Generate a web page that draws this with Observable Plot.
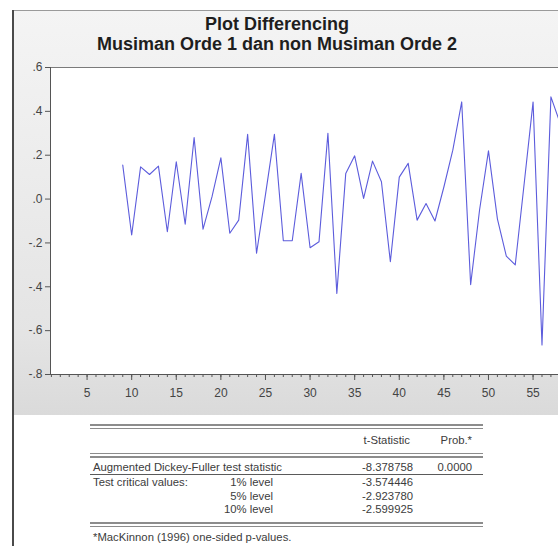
<!DOCTYPE html>
<html>
<head>
<meta charset="utf-8">
<script src="https://cdn.jsdelivr.net/npm/d3@7"></script>
<script src="https://cdn.jsdelivr.net/npm/@observablehq/plot@0.6"></script>
<style>
  html, body { margin: 0; padding: 0; background: #fff; }
  body { width: 558px; height: 546px; overflow: hidden; position: relative; font-family: "Liberation Sans", Arial, sans-serif; }
  .abs { position: absolute; white-space: nowrap; }
  #panel { left: 13px; top: 10px; width: 560px; height: 404px; border-top: 1px solid #9a9a9a;
           background: linear-gradient(#f4f4f4, #e4e4e4 80%, #dadada); }
  #leftline { left: 12px; top: 10px; width: 2px; height: 536px; background: #4a4a4a; }
  #title { left: 0; top: 14px; width: 554px; text-align: center; font-weight: bold; font-size: 18px; line-height: 20px; color: #1e1e1e; }
  #chart { left: 0; top: 55px; }
  .t { font-size: 11.3px; line-height: 13px; color: #3c3c3c; }
  .dl { left: 90px; width: 393px; height: 1.5px; background: #8c8c8c; }
</style>
</head>
<body>
<div id="panel" class="abs"></div>
<div id="leftline" class="abs"></div>
<div id="title" class="abs"></div>
<div id="chart" class="abs"></div>
<div id="table"></div>
<script>
// ---- data ----
const titleLines = ["Plot Differencing", "Musiman Orde 1 dan non Musiman Orde 2"];
const obs = [9, 10, 11, 12, 13, 14, 15, 16, 17, 18, 19, 20, 21, 22, 23, 24, 25, 26, 27, 28, 29, 30, 31, 32, 33,
             34, 35, 36, 37, 38, 39, 40, 41, 42, 43, 44, 45, 46, 47, 48, 49, 50, 51, 52, 53, 54, 55, 56, 57, 58];
const diffValues = [0.155, -0.164, 0.147, 0.112, 0.150, -0.149, 0.170, -0.115, 0.281, -0.137, 0.01, 0.188, -0.156,
                    -0.096, 0.295, -0.247, 0.02, 0.295, -0.19, -0.19, 0.117, -0.222, -0.195, 0.30, -0.43,
                    0.117, 0.197, 0.003, 0.173, 0.079, -0.286, 0.10, 0.163, -0.096, -0.02, -0.10, 0.055, 0.223,
                    0.443, -0.39, -0.05, 0.22, -0.09, -0.26, -0.30, 0.07, 0.443, -0.665, 0.466, 0.35];
const yTicks = [-0.8, -0.6, -0.4, -0.2, 0, 0.2, 0.4, 0.6];
const xMajorTicks = [5, 10, 15, 20, 25, 30, 35, 40, 45, 50, 55];
const xMinorTicks = d3.range(1, 58);

const tableHeader = ["t-Statistic", "Prob.*"];
const rowLabels = ["Augmented Dickey-Fuller test statistic", "Test critical values:"];
const levelLabels = ["1% level", "5% level", "10% level"];
const tStats = ["-8.378758", "-3.574446", "-2.923780", "-2.599925"];
const probs = ["0.0000"];
const footnote = "*MacKinnon (1996) one-sided p-values.";

// ---- title ----
document.getElementById("title").innerHTML = titleLines.join("<br>");

// ---- chart ----
const data = obs.map((t, i) => ({t, v: diffValues[i]}));
const fmtY = v => (v < 0 ? "-" : "") + "." + Math.round(Math.abs(v) * 10);

const chart = Plot.plot({
  width: 558,
  height: 355,
  marginTop: 12,
  marginBottom: 36,
  marginLeft: 50,
  marginRight: 0,
  style: {background: "transparent", fontFamily: "Liberation Sans, Arial, sans-serif", fontSize: "12px", color: "#444"},
  x: {domain: [0.9, 57.85]},
  y: {domain: [-0.8, 0.6]},
  marks: [
    Plot.frame({fill: "white", stroke: null}),
    Plot.axisY(yTicks, {tickSize: 5, tickPadding: 3, tickFormat: fmtY, label: null, stroke: "#555"}),
    Plot.axisX(xMinorTicks, {tickSize: 3, tickFormat: () => "", label: null, stroke: "#555"}),
    Plot.axisX(xMajorTicks, {tickSize: 6, tickPadding: 8, label: null, stroke: "#555"}),
    Plot.ruleY([0.6], {stroke: "#7a7a7a"}),
    Plot.ruleY([-0.8], {stroke: "#555"}),
    Plot.ruleX([0.9], {stroke: "#555"}),
    Plot.line(data, {x: "t", y: "v", stroke: "#5c5cdc", strokeWidth: 1.1, clip: true})
  ]
});
document.getElementById("chart").appendChild(chart);

// ---- table ----
const tbl = document.getElementById("table");
function addText(txt, top, opts = {}) {
  const d = document.createElement("div");
  d.className = "abs t";
  d.textContent = txt;
  d.style.top = top + "px";
  if (opts.right != null) d.style.right = (558 - opts.right) + "px";
  else d.style.left = opts.left + "px";
  tbl.appendChild(d);
}
function addLine(top, cls, h, color) {
  const d = document.createElement("div");
  d.className = "abs " + cls;
  d.style.top = top + "px";
  if (h) d.style.height = h + "px";
  if (color) d.style.background = color;
  tbl.appendChild(d);
}
// double rules
[424, 427.5, 452.5, 456, 522, 525.5].forEach(y => addLine(y, "dl"));
// single rule under first row
addLine(473.5, "dl", 1, "#5a5a5a");

addText(tableHeader[0], 433.6, {right: 410});
addText(tableHeader[1], 433.6, {right: 472});

const rowTops = [461.4, 475.6, 489.6, 502.6];
addText(rowLabels[0], rowTops[0], {left: 93});
addText(rowLabels[1], rowTops[1], {left: 93});
levelLabels.forEach((l, i) => addText(l, rowTops[i + 1], {right: 273}));
tStats.forEach((s, i) => addText(s, rowTops[i], {right: 413}));
probs.forEach((p, i) => addText(p, rowTops[i], {right: 472}));
addText(footnote, 530.6, {left: 93});
</script>
</body>
</html>
